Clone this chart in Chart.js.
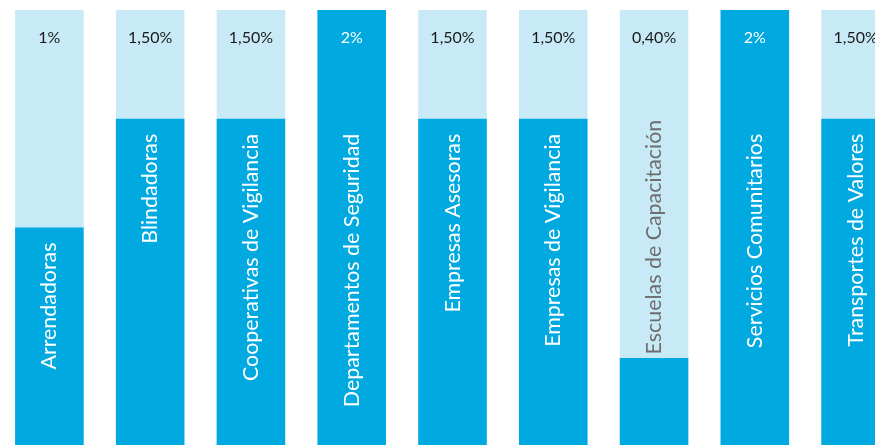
<!DOCTYPE html>
<html>
<head>
<meta charset="utf-8">
<script src="https://cdn.jsdelivr.net/npm/chart.js@4.4.0/dist/chart.umd.min.js"></script>
<style>
html,body{margin:0;padding:0;background:#fff;overflow:hidden;width:875px;height:445px;}
#wrap{position:absolute;left:-1px;top:0;width:907px;height:445px;}
</style>
</head>
<body>
<div id="wrap"><canvas id="c" width="907" height="445"></canvas></div>
<script>
const categories = ["Arrendadoras","Blindadoras","Cooperativas de Vigilancia","Departamentos de Seguridad","Empresas Asesoras","Empresas de Vigilancia","Escuelas de Capacitación","Servicios Comunitarios","Transportes de Valores"];
const values = [1, 1.5, 1.5, 2, 1.5, 1.5, 0.4, 2, 1.5];
const valueLabels = ["1%","1,50%","1,50%","2%","1,50%","1,50%","0,40%","2%","1,50%"];
const scaleMax = 2;
const labelLevel = 1.5;

const DARK = '#00a9e0';
const LIGHT = '#c8eaf6';

const labelPlugin = {
  id: 'labels',
  afterDatasetsDraw(chart) {
    const ctx = chart.ctx;
    const y = chart.scales.y;
    const meta = chart.getDatasetMeta(0);
    const bottom = chart.chartArea.bottom;
    const levelY = y.getPixelForValue(labelLevel);
    meta.data.forEach((bar, i) => {
      const cx = bar.x;
      ctx.save();
      ctx.font = '400 16px Lato';
      ctx.textAlign = 'center';
      ctx.textBaseline = 'middle';
      ctx.fillStyle = bar.y < 38 ? '#ffffff' : '#1a1a1a';
      ctx.fillText(valueLabels[i], cx, 38);
      ctx.restore();
      ctx.save();
      ctx.font = '400 21.4px Lato';
      const w = ctx.measureText(categories[i]).width;
      let anchor = Math.max(bar.y, levelY) + 15;
      let color = '#ffffff';
      if (anchor + w > bottom - 10) {
        anchor = levelY + 1;
        color = '#6e6e6e';
      }
      ctx.translate(cx + 7, anchor);
      ctx.rotate(-Math.PI / 2);
      ctx.textAlign = 'right';
      ctx.textBaseline = 'alphabetic';
      ctx.fillStyle = color;
      ctx.fillText(categories[i], 0, 0);
      ctx.restore();
    });
  }
};

new Chart(document.getElementById('c'), {
  type: 'bar',
  data: {
    labels: categories,
    datasets: [
      { data: values, backgroundColor: DARK, order: 0, grouped: false,
        barPercentage: 0.68, categoryPercentage: 1.0 },
      { data: categories.map(() => scaleMax), backgroundColor: LIGHT, order: 1, grouped: false,
        barPercentage: 0.68, categoryPercentage: 1.0 }
    ]
  },
  options: {
    responsive: false,
    animation: false,
    layout: { padding: { top: 10, left: 0, right: 0, bottom: 0 } },
    plugins: { legend: { display: false }, tooltip: { enabled: false } },
    scales: {
      x: { display: false, offset: true },
      y: { display: false, min: 0, max: scaleMax }
    }
  },
  plugins: [labelPlugin]
});
</script>
</body>
</html>
